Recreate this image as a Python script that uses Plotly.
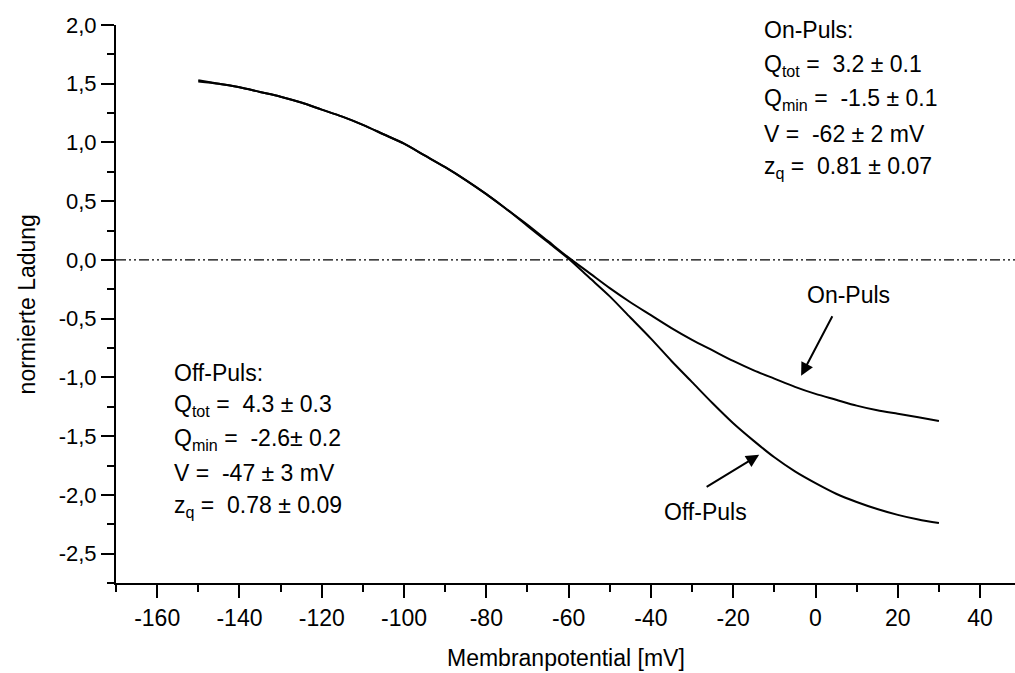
import plotly.graph_objects as go

# ---- data ----
potential_mV = [-150, -145, -140, -135, -130, -125, -120, -115, -110, -105,
                -100, -95, -90, -85, -80, -75, -70, -65, -60, -55,
                -50, -45, -40, -35, -30, -25, -20, -15, -10, -5,
                0, 5, 10, 15, 20, 25, 30]
on_puls = [1.52, 1.50, 1.47, 1.43, 1.39, 1.34, 1.28, 1.22, 1.15, 1.07,
           0.99, 0.89, 0.79, 0.68, 0.56, 0.43, 0.30, 0.16, 0.02, -0.11,
           -0.24, -0.36, -0.47, -0.58, -0.68, -0.77, -0.86, -0.94, -1.01, -1.08,
           -1.14, -1.19, -1.24, -1.28, -1.31, -1.34, -1.37]
off_puls = [1.53, 1.50, 1.47, 1.43, 1.39, 1.34, 1.28, 1.22, 1.15, 1.07,
            0.99, 0.89, 0.79, 0.68, 0.56, 0.43, 0.29, 0.15, 0.01, -0.15,
            -0.31, -0.49, -0.67, -0.86, -1.04, -1.22, -1.39, -1.54, -1.68, -1.80,
            -1.90, -1.99, -2.06, -2.12, -2.17, -2.21, -2.24]
zero_line_x = [-170, 50]
zero_line_y = [0, 0]

x_ticks = [-160, -140, -120, -100, -80, -60, -40, -20, 0, 20, 40]
x_tick_labels = ["-160", "-140", "-120", "-100", "-80", "-60", "-40", "-20", "0", "20", "40"]
y_ticks = [2.0, 1.5, 1.0, 0.5, 0.0, -0.5, -1.0, -1.5, -2.0, -2.5]
y_tick_labels = ["2,0", "1,5", "1,0", "0,5", "0,0", "-0,5", "-1,0", "-1,5", "-2,0", "-2,5"]

on_text = ["On-Puls:", "Q<sub>tot</sub> =  3.2 ± 0.1", "Q<sub>min</sub> =  -1.5 ± 0.1",
           "V =  -62 ± 2 mV", "z<sub>q</sub> =  0.81 ± 0.07"]
off_text = ["Off-Puls:", "Q<sub>tot</sub> =  4.3 ± 0.3", "Q<sub>min</sub> =  -2.6± 0.2",
            "V =  -47 ± 3 mV", "z<sub>q</sub> =  0.78 ± 0.09"]

# ---- layout geometry ----
W, H = 1015, 673
L, R, T, B = 115.5, 0, 25, 89.7
PW, PH = W - L - R, H - T - B


def px(xp):
    return (xp - L) / PW


def py(yp):
    return (H - B - yp) / PH


FONT = "Liberation Sans, Arial, sans-serif"

fig = go.Figure()
fig.add_trace(go.Scatter(x=zero_line_x, y=zero_line_y, mode="lines",
                         line=dict(color="black", width=1.2, dash="10px,3px,2px,3px,2px,3px"),
                         hoverinfo="skip", showlegend=False))
fig.add_trace(go.Scatter(x=potential_mV, y=on_puls, mode="lines", name="On-Puls",
                         line=dict(color="black", width=2, shape="spline", smoothing=0.8),
                         showlegend=False))
fig.add_trace(go.Scatter(x=potential_mV, y=off_puls, mode="lines", name="Off-Puls",
                         line=dict(color="black", width=2, shape="spline", smoothing=0.8),
                         showlegend=False))

annotations = []
on_y = [30, 66, 100, 134, 168]
for t, yy in zip(on_text, on_y):
    annotations.append(dict(xref="paper", yref="paper", x=px(762), y=py(yy), text=t,
                            showarrow=False, xanchor="left", yanchor="middle",
                            font=dict(family=FONT, size=23, color="black")))
off_y = [373, 406, 440, 473, 507]
for t, yy in zip(off_text, off_y):
    annotations.append(dict(xref="paper", yref="paper", x=px(172), y=py(yy), text=t,
                            showarrow=False, xanchor="left", yanchor="middle",
                            font=dict(family=FONT, size=23, color="black")))

annotations.append(dict(xref="paper", yref="paper", x=px(848), y=py(295), text="On-Puls",
                        showarrow=False, xanchor="center", yanchor="middle",
                        font=dict(family=FONT, size=23, color="black")))
annotations.append(dict(xref="paper", yref="paper", x=px(705), y=py(512), text="Off-Puls",
                        showarrow=False, xanchor="center", yanchor="middle",
                        font=dict(family=FONT, size=23, color="black")))
# arrows
annotations.append(dict(xref="paper", yref="paper", x=px(801), y=py(376), text="",
                        showarrow=True, axref="pixel", ayref="pixel", ax=32, ay=-61,
                        arrowhead=2, arrowsize=1.3, arrowwidth=2, arrowcolor="black"))
annotations.append(dict(xref="paper", yref="paper", x=px(759), y=py(455), text="",
                        showarrow=True, axref="pixel", ayref="pixel", ax=-54, ay=33,
                        arrowhead=2, arrowsize=1.3, arrowwidth=2, arrowcolor="black"))
# axis titles placed explicitly
annotations.append(dict(xref="paper", yref="paper", x=px(566), y=py(658), text="Membranpotential [mV]",
                        showarrow=False, xanchor="center", yanchor="middle",
                        font=dict(family=FONT, size=23, color="black")))
annotations.append(dict(xref="paper", yref="paper", x=px(26), y=py(305), text="normierte Ladung",
                        showarrow=False, xanchor="center", yanchor="middle", textangle=-90,
                        font=dict(family=FONT, size=23, color="black")))

fig.update_layout(
    width=W, height=H,
    margin=dict(l=L, r=R, t=T, b=B, autoexpand=False),
    paper_bgcolor="white", plot_bgcolor="white",
    showlegend=False,
    annotations=annotations,
    xaxis=dict(range=[-170, -170 + PW / 4.117], tickvals=x_ticks, ticktext=x_tick_labels,
               ticks="outside", ticklen=13, tickwidth=2, tickcolor="black",
               minor=dict(dtick=10, tick0=0, ticks="outside", ticklen=7, tickwidth=2, tickcolor="black"),
               showline=True, linecolor="black", linewidth=2,
               showgrid=False, zeroline=False,
               tickfont=dict(family=FONT, size=23, color="black")),
    yaxis=dict(range=[-2.75, 2.0], tickvals=y_ticks, ticktext=y_tick_labels,
               ticks="outside", ticklen=13, tickwidth=2, tickcolor="black",
               minor=dict(dtick=0.25, tick0=0, ticks="outside", ticklen=7, tickwidth=2, tickcolor="black"),
               showline=True, linecolor="black", linewidth=2,
               showgrid=False, zeroline=False,
               tickfont=dict(family=FONT, size=22, color="black")),
)

fig.write_html("out.html")
